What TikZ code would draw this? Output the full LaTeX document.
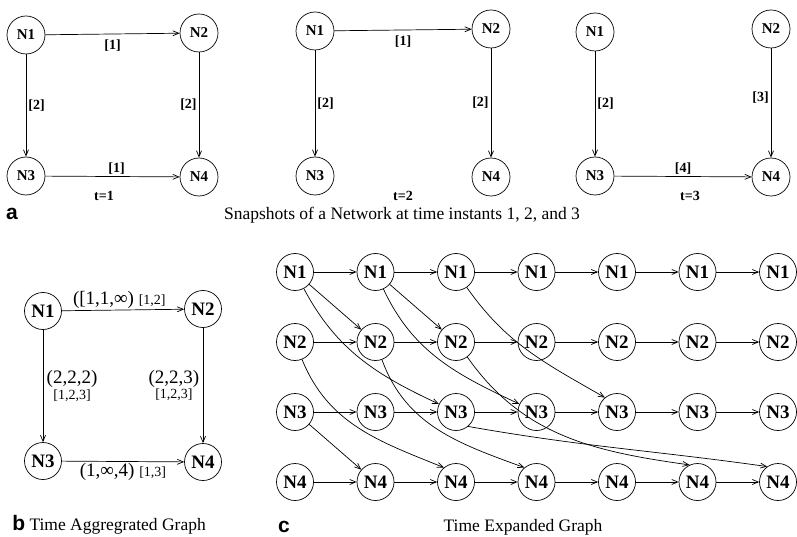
\documentclass[tikz,border=0pt]{standalone}
\usepackage{fontspec}
\setmainfont{Liberation Serif}
\newfontfamily\panelfont{Liberation Sans}
\usetikzlibrary{arrows.meta}
\newcommand\bigsz{\fontsize{19}{21}\selectfont}
\newcommand\smsz{\fontsize{14}{16}\selectfont}

\begin{document}
\begin{tikzpicture}[x=1pt, y=-1pt, line width=0.7pt,
    >={Straight Barb[length=6pt,width=5pt]},
    snap/.style={circle, draw, inner sep=0pt, minimum size=38pt, font=\fontsize{15}{17}\selectfont\bfseries},
    tnode/.style={circle, draw, inner sep=0pt, minimum size=37pt, font=\fontsize{19}{21}\selectfont\bfseries},
    lbl/.style={font=\fontsize{14}{16}\selectfont\bfseries, inner sep=2pt},
    panel/.style={font=\panelfont\bfseries\fontsize{21}{23}\selectfont, inner sep=0pt}]
    \useasboundingbox (0,0) rectangle (797,537);

    % a
    \foreach \t/\xa/\xb/\ya/\yb in {1/26/199/35/33, 2/315/491/31/29, 3/595/771/32/29} {
        \node[snap] (a\t-n1) at (\xa,\ya) {N1};
        \node[snap] (a\t-n2) at (\xb,\yb) {N2};
        \node[snap] (a\t-n3) at (\xa,176) {N3};
        \node[snap] (a\t-n4) at (\xb,177) {N4};
    }
    \draw[->] (a1-n1) -- (a1-n2) node[lbl, midway, below=3pt] {[1]};
    \draw[->] (a1-n1) -- (a1-n3) node[lbl, midway, right] {[2]};
    \draw[->] (a1-n2) -- (a1-n4) node[lbl, midway, left] {[2]};
    \draw[->] (a1-n3) -- (a1-n4) node[lbl, pos=0.53, above] {[1]};
    \node[lbl] (a1-t) at (104,196) {t=1};

    \draw[->] (a2-n1) -- (a2-n2) node[lbl, midway, below=3pt] {[1]};
    \draw[->] (a2-n1) -- (a2-n3) node[lbl, midway, right] {[2]};
    \draw[->] (a2-n2) -- (a2-n4) node[lbl, midway, left] {[2]};
    \node[lbl] (a2-t) at (403,196) {t=2};

    \draw[->] (a3-n1) -- (a3-n3) node[lbl, midway, right] {[2]};
    \draw[->] (a3-n2) -- (a3-n4) node[lbl, pos=0.45, left] {[3]};
    \draw[->] (a3-n3) -- (a3-n4) node[lbl, midway, above] {[4]};
    \node[lbl] (a3-t) at (690,196) {t=3};

    \node[panel] (cap-a) at (12,214) {a};
    \node[font=\fontsize{17.5}{20}\selectfont] (cap-at) at (402,215) {Snapshots of a Network at time instants 1, 2, and 3};

    % b
    \node[tnode] (b1) at (43,311) {N1};
    \node[tnode] (b2) at (203,309) {N2};
    \node[tnode] (b3) at (43,461) {N3};
    \node[tnode] (b4) at (203,462) {N4};
    \draw[->] (b1) -- (b2) node[pos=0.47, above, inner sep=1pt] {\bigsz([1,1,∞) \smsz[1,2]};
    \draw[->] (b1) -- (b3) node[midway, right, align=center] {\bigsz(2,2,2)\\[1pt]\smsz[1,2,3]};
    \draw[->] (b2) -- (b4) node[midway, left, align=center] {\bigsz(2,2,3)\\[1pt]\smsz[1,2,3]};
    \draw[->] (b3) -- (b4) node[midway, below, inner sep=1pt] {\bigsz(1,∞,4) \smsz[1,3]};
    \node[anchor=base west, font=\fontsize{17.5}{20}\selectfont, inner sep=0pt] (cap-b) at (12,530)
        {{\panelfont\bfseries\fontsize{21}{23}\selectfont b} Time Aggregrated Graph};

    % c
    \foreach \t in {1,...,7}
        \foreach \r in {1,...,4}
            \node[tnode] (c\r-\t) at ({295+80.5*(\t-1)},{272+70*(\r-1)}) {N\r};
    \foreach \r in {1,...,4}
        \foreach \t [count=\s from 2] in {1,...,6}
            \draw[->] (c\r-\t) -- (c\r-\s);
    \draw[->] (c1-1) -- (c2-2);
    \draw[->] (c1-2) -- (c2-3);
    \draw[->] (c3-1) -- (c4-2);
    \draw[->] (c1-1) to[out=-62, in=155] (c3-3);
    \draw[->] (c1-2) to[out=-65, in=155] (c3-4);
    \draw[->] (c1-3) to[out=-55, in=150] (c3-5.130);
    \draw[->] (c2-1) to[out=-68, in=158] (c4-3.130);
    \draw[->] (c2-2) to[out=-70, in=160] (c4-4.130);
    \draw[->] (c2-3.-53) to[out=-55, in=172] (c4-6.115);
    \draw[->] (c3-3.-50) to[out=-10, in=172] (c4-7.125);
    \node[panel] (cap-c) at (284,527) {c};
    \node[font=\fontsize{17.5}{20}\selectfont] (cap-ct) at (523,527) {Time Expanded Graph};
\end{tikzpicture}
\end{document}
